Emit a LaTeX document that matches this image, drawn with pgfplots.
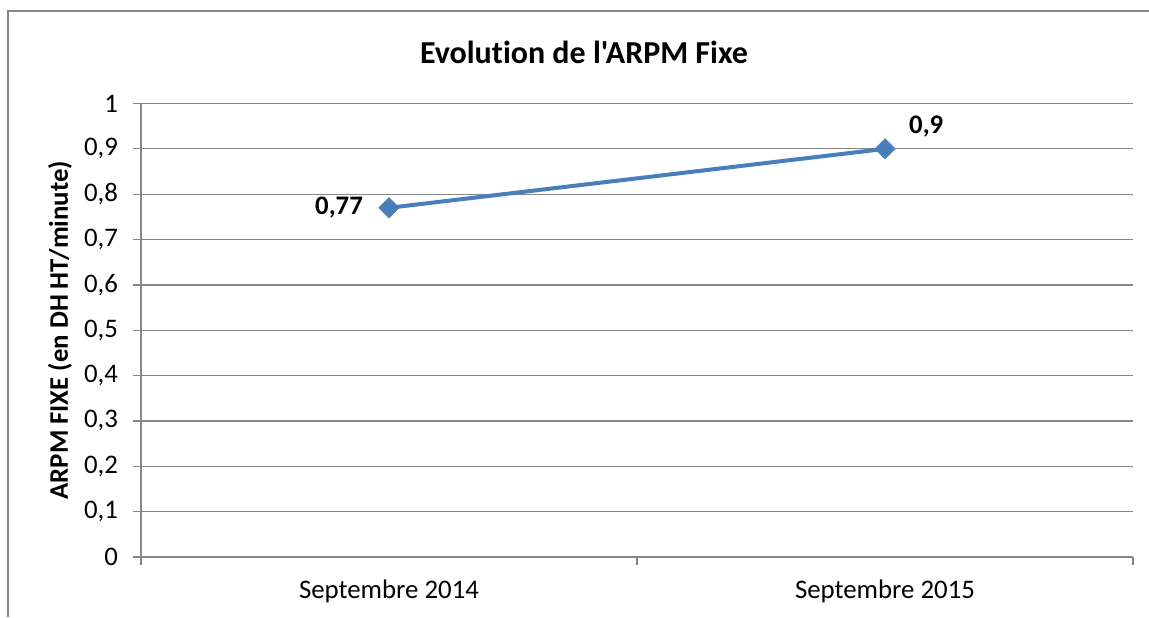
\documentclass[border=0pt]{standalone}
\usepackage{pgfplots}
\pgfplotsset{compat=1.18}
\usepackage{fontspec}
\setmainfont{Carlito}[Ligatures={TeXOff,CommonOff}]
\definecolor{serie}{RGB}{74,126,187}
\definecolor{grille}{RGB}{134,134,134}

\begin{document}
\begin{tikzpicture}
  % cadre du graphique (bords gauche et haut visibles)
  \path[use as bounding box] (-70.5pt,-30pt) rectangle (504pt,278.5pt);
  \draw[grille, line width=0.7pt] (-66.5pt,-30pt) -- (-66.5pt,273pt) -- (504pt,273pt);

  \begin{axis}[
    at={(0,0)}, anchor=south west,
    scale only axis, width=496pt, height=226.75pt,
    xmin=-0.5, xmax=1.5, ymin=0, ymax=1,
    xtick={0,1}, xticklabels={Septembre 2014, Septembre 2015},
    minor xtick={-0.5,0.5,1.5},
    ytick={0,0.1,0.2,0.3,0.4,0.5,0.6,0.7,0.8,0.9,1},
    axis x line=bottom, axis y line=left,
    axis line style={grille, line width=0.6pt, -},
    tick align=outside, major tick length=4pt, minor tick length=4pt,
    major x tick style={draw=none},
    tick style={grille, line width=0.6pt},
    ymajorgrids, grid style={grille, line width=0.6pt},
    font=\fontsize{13.4}{15}\selectfont,
    xticklabel style={yshift=-4pt},
    yticklabel style={xshift=-4pt},
    /pgf/number format/use comma,
    /pgf/number format/assume math mode=true,
    ylabel={ARPM FIXE (en DH HT/minute)},
    ylabel style={at={(rel axis cs:0,0.5)}, anchor=center, yshift=40.5pt, font=\bfseries\fontsize{13.4}{15}\selectfont},
  ]
    \addplot[serie, line width=2pt, mark=square*, mark size=3.5pt,
      mark options={rotate=45, fill=serie, draw=serie, line width=0.5pt},
      nodes near coords, point meta=explicit symbolic,
      every node near coord/.append style={font=\bfseries\fontsize{13.4}{15}\selectfont, text=black},
      coordinate style/.condition={x<0.5}{anchor=east, xshift=-9.5pt, yshift=0pt},
      coordinate style/.condition={x>0.5}{anchor=west, xshift=8.5pt, yshift=11pt},
    ] table[meta=lab] {
      x y lab
      0 0.77 {0,77}
      1 0.9 {0,9}
    };
  \end{axis}

  \node[font=\bfseries\fontsize{16}{18}\selectfont] at (221.5pt,252.5pt) {Evolution de l'ARPM Fixe};
\end{tikzpicture}
\end{document}
